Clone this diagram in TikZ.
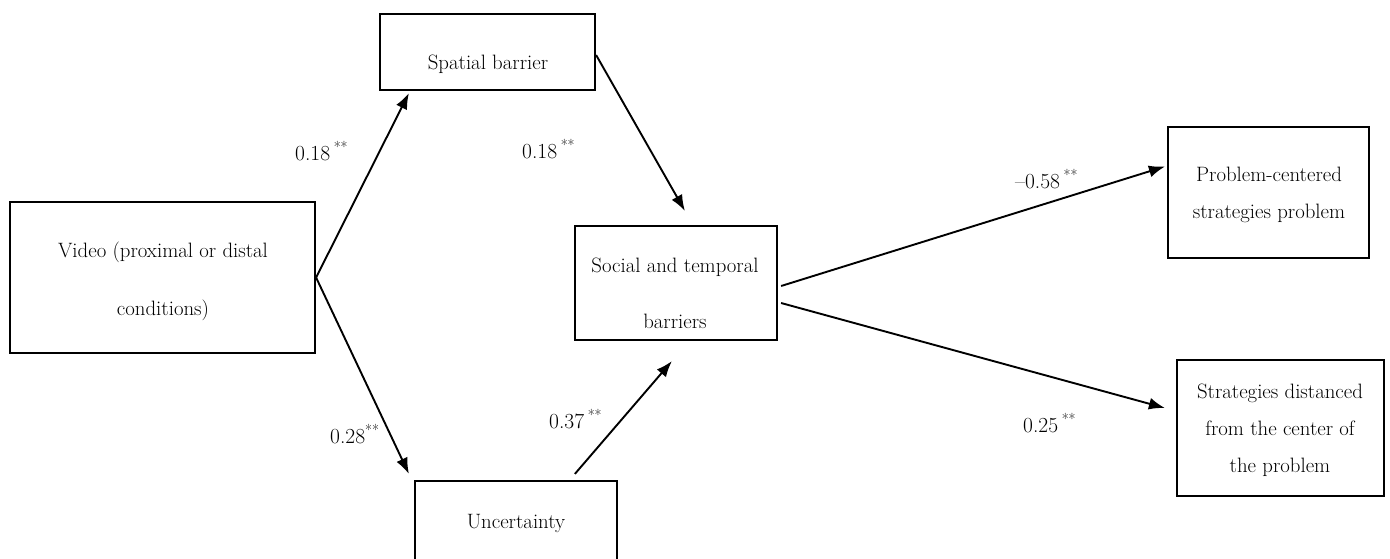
\documentclass[tikz,border=0pt]{standalone}
\usetikzlibrary{arrows.meta}
\begin{document}
\begin{tikzpicture}[x=1pt,y=-1pt,
  box/.style={draw,line width=2.2pt,inner sep=0pt},
  txt/.style={anchor=base,inner sep=0pt,font=\fontsize{20.8}{24}\selectfont},
  lab/.style={anchor=base west,inner sep=0pt,font=\fontsize{21.5}{24}\selectfont},
  conn/.style={line width=1.9pt,-{Latex[length=16pt,width=12pt]}}]
\useasboundingbox (0,0) rectangle (1390,558);
\clip (0,0) rectangle (1390,558);
% boxes
\node[box,minimum width=215pt,minimum height=76pt] (sp) at (487.5,52) {};
\node[box,minimum width=305pt,minimum height=151pt] (v) at (162.5,277.5) {};
\node[box,minimum width=202pt,minimum height=114pt] (soc) at (676,283) {};
\node[box,minimum width=201pt,minimum height=131pt] (pc) at (1268.5,192.5) {};
\node[box,minimum width=207pt,minimum height=136pt] (sd) at (1280.5,428) {};
\node[box,minimum width=202pt,minimum height=100pt] (unc) at (516,531) {};
% box texts
\node[txt] (tsp) at (488,69) {Spatial barrier};
\node[txt] (tv1) at (163,257) {Video (proximal or distal};
\node[txt] (tv2) at (163,315) {conditions)};
\node[txt] (ts1) at (675,272) {Social and temporal};
\node[txt] (ts2) at (675,328) {barriers};
\node[txt] (tp1) at (1269,181) {Problem-centered};
\node[txt] (tp2) at (1269,218) {strategies problem};
\node[txt] (td1) at (1280,398) {Strategies distanced};
\node[txt] (td2) at (1280,435) {from the center of};
\node[txt] (td3) at (1280,472) {the problem};
\node[txt] (tu) at (516,528) {Uncertainty};
% connectors
\draw[conn] (v.east) -- ([xshift=30pt,yshift=-2pt]sp.south west);
\draw[conn] (v.east) -- ([xshift=-5pt,yshift=6pt]unc.north west);
\draw[conn] ([yshift=-3pt]sp.east) -- ([xshift=111pt,yshift=14pt]soc.north west);
\draw[conn] ([xshift=161pt,yshift=6pt]unc.north west) -- ([xshift=98pt,yshift=-20pt]soc.south west);
\draw[conn] ([xshift=3pt,yshift=-3pt]soc.east) -- ([xshift=-2pt,yshift=26pt]pc.west);
\draw[conn] ([xshift=3pt,yshift=-20pt]soc.east) -- ([xshift=-11pt,yshift=20pt]sd.west);
% labels
\node[lab] (l1) at (295,160) {0.18\,\textsuperscript{**}};
\node[lab] (l2) at (522,158) {0.18\,\textsuperscript{**}};
\node[lab] (l3) at (330,443) {0.28\textsuperscript{**}};
\node[lab] (l4) at (549,428) {0.37\,\textsuperscript{**}};
\node[lab] (l5) at (1015,188) {\textendash0.58\,\textsuperscript{**}};
\node[lab] (l6) at (1023,432) {0.25\,\textsuperscript{**}};
\end{tikzpicture}
\end{document}
